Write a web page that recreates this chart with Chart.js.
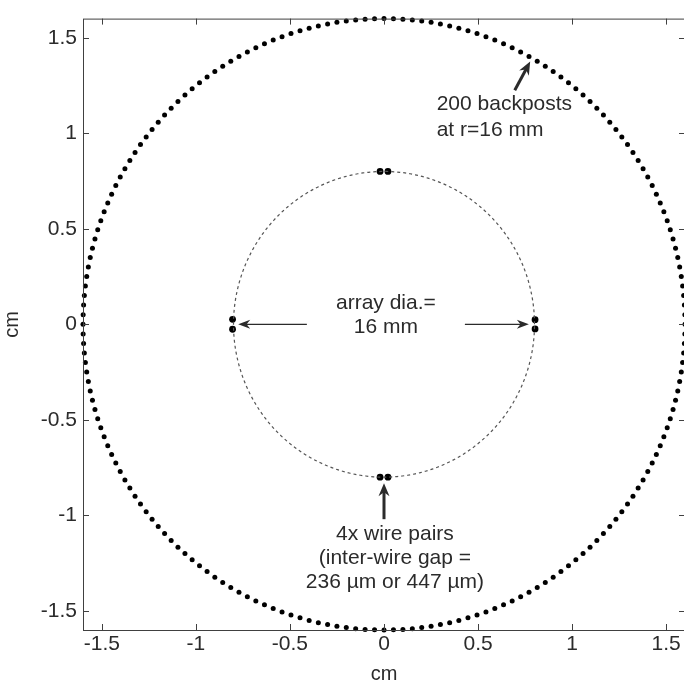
<!DOCTYPE html>
<html>
<head>
<meta charset="utf-8">
<script src="https://cdn.jsdelivr.net/npm/chart.js@4"></script>
<style>
html,body{margin:0;padding:0;overflow:hidden;background:#fff}
#wrap{position:absolute;left:0;top:0}
</style>
</head>
<body>
<div id="wrap"><canvas id="c" width="690" height="686"></canvas></div>
<script>
// axis (cm)
const tickValues = [-1.5, -1, -0.5, 0, 0.5, 1, 1.5];
const axisRange = [-1.6, 1.6];

// 200 backposts at r = 16 mm
const backpostCount = 200;
const backpostRadius = 1.6;

// wire array, dia. 16 mm
const arrayRadius = 0.8;

// 4x wire pairs (cm)
const wireX = [-0.021, 0.021, -0.021, 0.021, -0.805, -0.805, 0.803, 0.803];
const wireY = [0.8, 0.8, -0.8, -0.8, 0.026, -0.026, 0.024, -0.024];

const FONT = '"Liberation Sans", Arial, sans-serif';
const INK = '#2b2b2b';

// build points
const backposts = [];
for (let k = 0; k < backpostCount; k++) {
  const a = 2 * Math.PI * k / backpostCount;
  backposts.push({x: backpostRadius * Math.cos(a), y: backpostRadius * Math.sin(a)});
}
const arrayCircle = [];
for (let k = 0; k <= 360; k++) {
  const a = 2 * Math.PI * k / 360;
  arrayCircle.push({x: arrayRadius * Math.cos(a), y: arrayRadius * Math.sin(a)});
}
const wires = wireX.map((x, i) => ({x, y: wireY[i]}));

// annotation layout (data units)
const notes = [
  {lines: ['200 backposts', 'at r=16 mm'], x: 0.28, y: 1.152, dy: 0.138, align: 'left'},
  {lines: ['array dia.=', '16 mm'], x: 0.01, y: 0.112, dy: 0.125, align: 'center'},
  {lines: ['4x wire pairs', '(inter-wire gap =', '236 \u00b5m or 447 \u00b5m)'], x: 0.058, y: -1.098, dy: 0.125, align: 'center'}
];
const arrows = [
  {from: [0.695, 1.225], to: [0.777, 1.375], w: 3, head: 13, hw: 11},
  {from: [-0.41, 0.0], to: [-0.775, 0.0], w: 1.3, head: 12, hw: 9},
  {from: [0.43, 0.0], to: [0.77, 0.0], w: 1.3, head: 12, hw: 9},
  {from: [0.0, -1.02], to: [0.0, -0.832], w: 3, head: 13, hw: 11}
];

function drawArrow(ctx, x0, y0, x1, y1, a) {
  const ang = Math.atan2(y1 - y0, x1 - x0);
  const ux = Math.cos(ang), uy = Math.sin(ang);
  const bx = x1 - ux * a.head, by = y1 - uy * a.head;
  ctx.strokeStyle = INK; ctx.fillStyle = INK; ctx.lineWidth = a.w;
  ctx.beginPath();
  ctx.moveTo(x0, y0);
  ctx.lineTo(x1 - ux * a.head * 0.6, y1 - uy * a.head * 0.6);
  ctx.stroke();
  ctx.beginPath();
  ctx.moveTo(x1, y1);
  ctx.lineTo(bx - uy * a.hw / 2, by + ux * a.hw / 2);
  ctx.lineTo(x1 - ux * a.head * 0.7, y1 - uy * a.head * 0.7);
  ctx.lineTo(bx + uy * a.hw / 2, by - ux * a.hw / 2);
  ctx.closePath();
  ctx.fill();
}

const boxPlugin = {
  id: 'box',
  afterDraw(chart) {
    const {ctx, chartArea: ca, scales: {x, y}} = chart;
    ctx.save();
    ctx.strokeStyle = '#404040';
    ctx.lineWidth = 1;
    ctx.strokeRect(ca.left + 0.5, ca.top + 0.5, ca.right - ca.left, ca.bottom - ca.top);
    ctx.beginPath();
    x.ticks.forEach(t => {
      const p = Math.round(x.getPixelForValue(t.value)) + 0.5;
      ctx.moveTo(p, ca.bottom); ctx.lineTo(p, ca.bottom - 6);
      ctx.moveTo(p, ca.top); ctx.lineTo(p, ca.top + 6);
    });
    y.ticks.forEach(t => {
      const p = Math.round(y.getPixelForValue(t.value)) + 0.5;
      ctx.moveTo(ca.left, p); ctx.lineTo(ca.left + 6, p);
      ctx.moveTo(ca.right, p); ctx.lineTo(ca.right - 6, p);
    });
    ctx.stroke();

    // annotations
    ctx.font = '21px ' + FONT;
    ctx.fillStyle = INK;
    ctx.textBaseline = 'middle';
    notes.forEach(n => {
      ctx.textAlign = n.align;
      n.lines.forEach((s, i) => {
        ctx.fillText(s, x.getPixelForValue(n.x), y.getPixelForValue(n.y - i * n.dy));
      });
    });
    arrows.forEach(a => {
      drawArrow(ctx, x.getPixelForValue(a.from[0]), y.getPixelForValue(a.from[1]),
        x.getPixelForValue(a.to[0]), y.getPixelForValue(a.to[1]), a);
    });
    ctx.restore();
  }
};

const setTicks = s => { s.ticks = tickValues.map(v => ({value: v})); };

new Chart(document.getElementById('c'), {
  type: 'scatter',
  data: {
    datasets: [
      {data: arrayCircle, showLine: true, borderColor: '#555', borderWidth: 1.2, borderDash: [3, 3], pointRadius: 0, clip: false},
      {data: backposts, pointRadius: 2.5, pointBackgroundColor: '#000', pointBorderWidth: 0, clip: false},
      {data: wires, pointRadius: 3.4, pointBackgroundColor: '#000', pointBorderWidth: 0, clip: false}
    ]
  },
  options: {
    responsive: false,
    animation: false,
    layout: {padding: {top: 14, right: 5, left: 0, bottom: 0}},
    plugins: {legend: {display: false}, tooltip: {enabled: false}},
    scales: {
      x: {
        type: 'linear', min: axisRange[0], max: axisRange[1],
        afterBuildTicks: setTicks,
        afterFit: s => { s.height = 56; },
        grid: {display: false, drawTicks: false},
        border: {display: false},
        ticks: {color: INK, padding: 2, font: {family: FONT, size: 21}, callback: v => String(v)},
        title: {display: true, text: 'cm', color: INK, padding: 0, font: {family: FONT, size: 20}}
      },
      y: {
        type: 'linear', min: axisRange[0], max: axisRange[1],
        afterBuildTicks: setTicks,
        afterFit: s => { s.width = 83; },
        grid: {display: false, drawTicks: false},
        border: {display: false},
        ticks: {color: INK, padding: 6, font: {family: FONT, size: 21}, callback: v => String(v)},
        title: {display: true, text: 'cm', color: INK, padding: 0, font: {family: FONT, size: 20}}
      }
    }
  },
  plugins: [boxPlugin]
});
</script>
</body>
</html>
